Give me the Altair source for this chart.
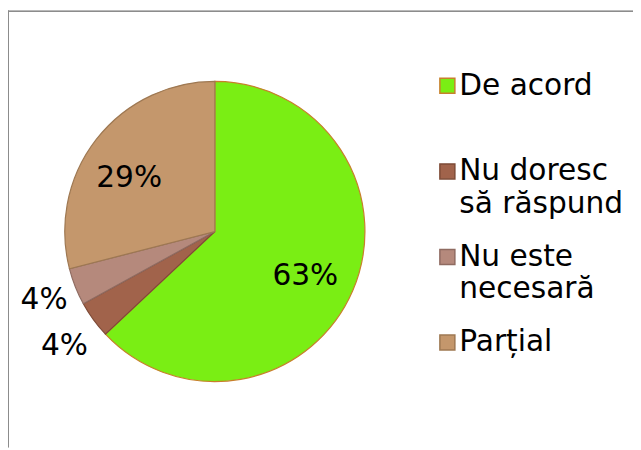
import altair as alt
import pandas as pd

# ---- data ----
categories = ["De acord", "Nu doresc să răspund", "Nu este necesară", "Parțial"]
values = [63, 4, 4, 29]
pct_labels = ["63%", "4%", "4%", "29%"]
legend_line1 = ["De acord", "Nu doresc", "Nu este", "Parțial"]
legend_line2 = ["", "să răspund", "necesară", ""]

fills = ["#7AEE14", "#A1634B", "#B5897C", "#C4976C"]
strokes = ["#C87F2C", "#7E4B37", "#8F6B61", "#9E7852"]

df = pd.DataFrame({
    "cat": categories,
    "value": values,
    "order": list(range(len(categories))),
    "label": pct_labels,
    "l1": legend_line1,
    "l2": legend_line2,
})

FONT = "DejaVu Sans"
FS = 30
CX, CY, R = 209.5, 223.5, 152

color = alt.Color("cat:N", scale=alt.Scale(domain=categories, range=fills), legend=None)
stroke = alt.Stroke("cat:N", scale=alt.Scale(domain=categories, range=strokes), legend=None)

base = alt.Chart(df)

arc = base.mark_arc(radius=R, strokeWidth=1.2).encode(
    theta=alt.Theta("value:Q", stack=True),
    order=alt.Order("order:Q"),
    color=color,
    stroke=stroke,
    x=alt.value(CX),
    y=alt.value(CY),
)

# per-label placement (radius, dx, dy)
label_style = {
    "De acord": (102, -2, 5),
    "Nu doresc să răspund": (192, 3, 3),
    "Nu este necesară": (186, 0, 1),
    "Parțial": (101, -7, 8),
}

text_layers = []
for cat, (r, dx, dy) in label_style.items():
    t = base.transform_calculate(
        t=f"datum.cat == '{cat}' ? datum.label : ''"
    ).mark_text(
        radius=r, dx=dx, dy=dy, font=FONT, fontSize=FS, color="#000000", baseline="middle"
    ).encode(
        theta=alt.Theta("value:Q", stack=True),
        order=alt.Order("order:Q"),
        detail="cat:N",
        text="t:N",
        x=alt.value(CX),
        y=alt.value(CY),
    )
    text_layers.append(t)

ypos = alt.Y("cat:N", sort=categories,
             scale=alt.Scale(domain=categories, range=[76, 336], padding=0), axis=None)

leg_sym = base.mark_point(shape="square", filled=True, size=230, strokeWidth=1.5, opacity=1).encode(
    x=alt.value(445),
    y=ypos,
    color=color,
    stroke=stroke,
)

leg_t1 = base.mark_text(align="left", baseline="middle", font=FONT, fontSize=FS, color="#000000").encode(
    x=alt.value(457), y=ypos, text="l1:N"
)
leg_t2 = base.mark_text(align="left", baseline="middle", font=FONT, fontSize=FS, color="#000000", dy=33).encode(
    x=alt.value(457), y=ypos, text="l2:N"
)

edge_left = alt.Chart(df).mark_rule(color="#8C8C8C", strokeWidth=1).encode(
    x=alt.value(0.5), y=alt.value(0), y2=alt.value(442)
)
edge_top = alt.Chart(df).mark_rule(color="#8C8C8C", strokeWidth=1).encode(
    x=alt.value(0), x2=alt.value(633), y=alt.value(0.5)
)

chart = alt.layer(arc, *text_layers, leg_sym, leg_t1, leg_t2, edge_left, edge_top).properties(
    width=633, height=442, padding=0, autosize="none", background="#FFFFFF"
).configure_view(stroke=None)

chart.save("out.html", embed_options={"renderer": "svg", "actions": False})
